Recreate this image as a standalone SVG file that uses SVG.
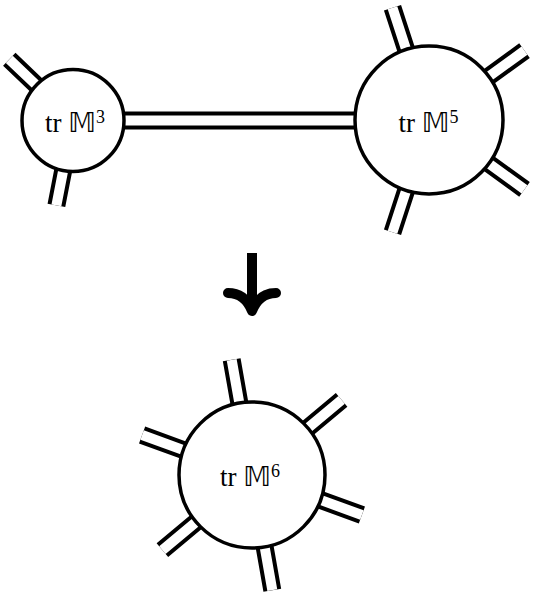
<svg xmlns="http://www.w3.org/2000/svg" width="533" height="600" viewBox="0 0 533 600">
<style>
.outer{stroke:#000;stroke-width:18;fill:none}
.inner{stroke:#fff;stroke-width:10;fill:none}
.node circle{fill:#fff;stroke:#000;stroke-width:3.5}
.lbl{font-family:"Liberation Serif","DejaVu Serif",serif;font-size:27px;fill:#000;text-anchor:middle}
.bb{font-family:"DejaVu Sans","DejaVu Serif",sans-serif}
.sup{font-size:18px}
</style>
<rect width="533" height="600" fill="#fff"/>
<g id="connectors">
  <path class="outer" d="M120,120.5H360 M40.4,89 L9.3,59.3 M64.4,164.2 L56.4,205.4 M408,55.3 L392.5,7.8 M484,80 L524.5,50.6 M484,160 L524.5,189.4 M408,184.7 L392.5,232.2 M240.4,409 L231.7,359.8 M303.3,431.9 L341.6,399.8 M315,497.9 L361.9,515 M263.6,541 L272.3,590.2 M200.7,518.1 L162.4,550.2 M189,452.1 L142.1,435"/>
  <path class="inner" d="M120,120.5H360 M40.4,89 L9.3,59.3 M64.4,164.2 L56.4,205.4 M408,55.3 L392.5,7.8 M484,80 L524.5,50.6 M484,160 L524.5,189.4 M408,184.7 L392.5,232.2 M240.4,409 L231.7,359.8 M303.3,431.9 L341.6,399.8 M315,497.9 L361.9,515 M263.6,541 L272.3,590.2 M200.7,518.1 L162.4,550.2 M189,452.1 L142.1,435"/>
</g>
<g id="node-m3" class="node">
  <circle cx="73" cy="120.5" r="51"/>
  <text class="lbl" x="75" y="132">tr <tspan class="bb">𝕄</tspan><tspan class="sup" dy="-9">3</tspan></text>
</g>
<g id="node-m5" class="node">
  <circle cx="429" cy="120" r="74"/>
  <text class="lbl" x="428.5" y="132">tr <tspan class="bb">𝕄</tspan><tspan class="sup" dy="-9">5</tspan></text>
</g>
<g id="arrow">
  <path d="M252,253 V306" stroke="#000" stroke-width="10" fill="none"/>
  <path d="M228,293 Q245,293 252,311 Q259,293 276,293" stroke="#000" stroke-width="10" fill="none" stroke-linecap="round" stroke-linejoin="round"/>
</g>
<g id="node-m6" class="node">
  <circle cx="252" cy="475" r="73"/>
  <text class="lbl" x="250" y="486">tr <tspan class="bb">𝕄</tspan><tspan class="sup" dy="-9">6</tspan></text>
</g>
</svg>
